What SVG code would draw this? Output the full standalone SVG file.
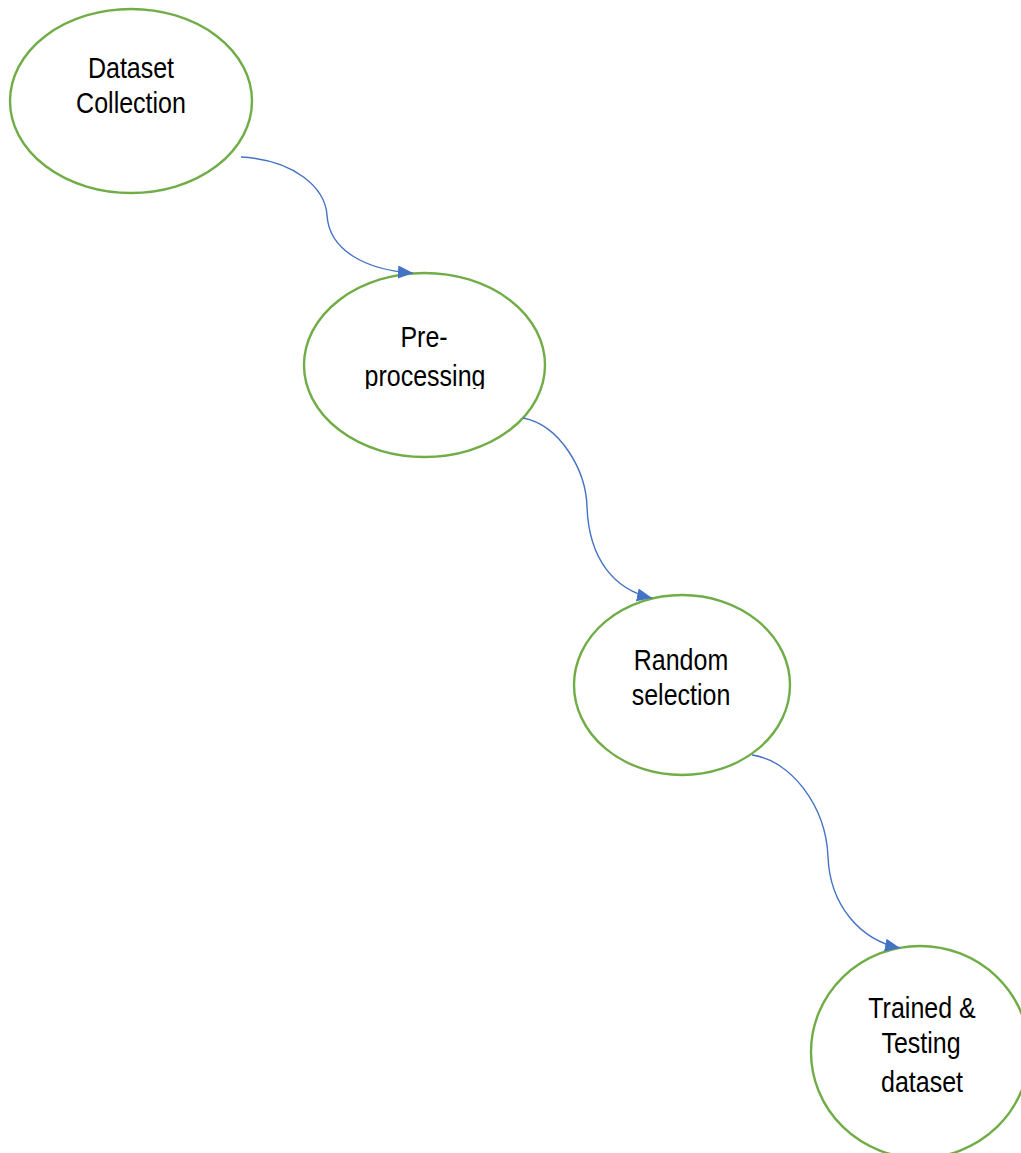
<svg xmlns="http://www.w3.org/2000/svg" width="1021" height="1153" viewBox="0 0 1021 1153">
  <defs>
    <style>
      .node { fill: #FFFFFF; stroke: #70AD47; stroke-width: 2.4; }
      .label { font-family: "Liberation Sans", Arial, sans-serif; font-size: 25px; fill: #000000; text-anchor: middle; }
      .link { fill: none; stroke: #4472C4; stroke-width: 1.4; }
    </style>
    <marker id="arrow" markerUnits="userSpaceOnUse" markerWidth="16" markerHeight="14" refX="15" refY="7" orient="auto">
      <path d="M0,0.5 L15,7 L0,13.5 Z" fill="#4472C4"/>
    </marker>
    <!-- the second label line is cut just under its baseline -->
    <clipPath id="clip-pre">
      <rect x="300" y="270" width="250" height="119"/>
    </clipPath>
  </defs>

  <rect width="1021" height="1153" fill="#FFFFFF"/>

  <g id="node-dataset-collection">
    <ellipse class="node" cx="131" cy="101" rx="121" ry="92"/>
    <text class="label" transform="translate(131,78) scale(1,1.15)">Dataset</text>
    <text class="label" transform="translate(131,113) scale(1,1.15)">Collection</text>
  </g>

  <g id="node-pre-processing">
    <ellipse class="node" cx="424.5" cy="365" rx="120.5" ry="92"/>
    <g clip-path="url(#clip-pre)">
      <text class="label" transform="translate(424,347) scale(1,1.15)">Pre-</text>
      <text class="label" transform="translate(425,386) scale(1,1.15)">processing</text>
    </g>
  </g>

  <g id="node-random-selection">
    <ellipse class="node" cx="682" cy="685" rx="108" ry="90"/>
    <text class="label" transform="translate(681,670) scale(1,1.15)">Random</text>
    <text class="label" transform="translate(681,705) scale(1,1.15)">selection</text>
  </g>

  <g id="node-trained-testing">
    <ellipse class="node" cx="920" cy="1052" rx="109" ry="106"/>
    <text class="label" transform="translate(922,1018) scale(1,1.15)">Trained &amp;</text>
    <text class="label" transform="translate(921,1053) scale(1,1.15)">Testing</text>
    <text class="label" transform="translate(922,1092) scale(1,1.15)">dataset</text>
  </g>

  <g id="connectors">
    <path class="link" marker-end="url(#arrow)" d="M241,157 C295,160 325,188 327,215 C329,250 365,270 413,273"/>
    <path class="link" marker-end="url(#arrow)" d="M523,418 C560,425 586,470 587,507 C589,560 615,590 652,598"/>
    <path class="link" marker-end="url(#arrow)" d="M752,755 C790,760 826,805 828,857 C830,905 860,940 900,948"/>
  </g>
</svg>
